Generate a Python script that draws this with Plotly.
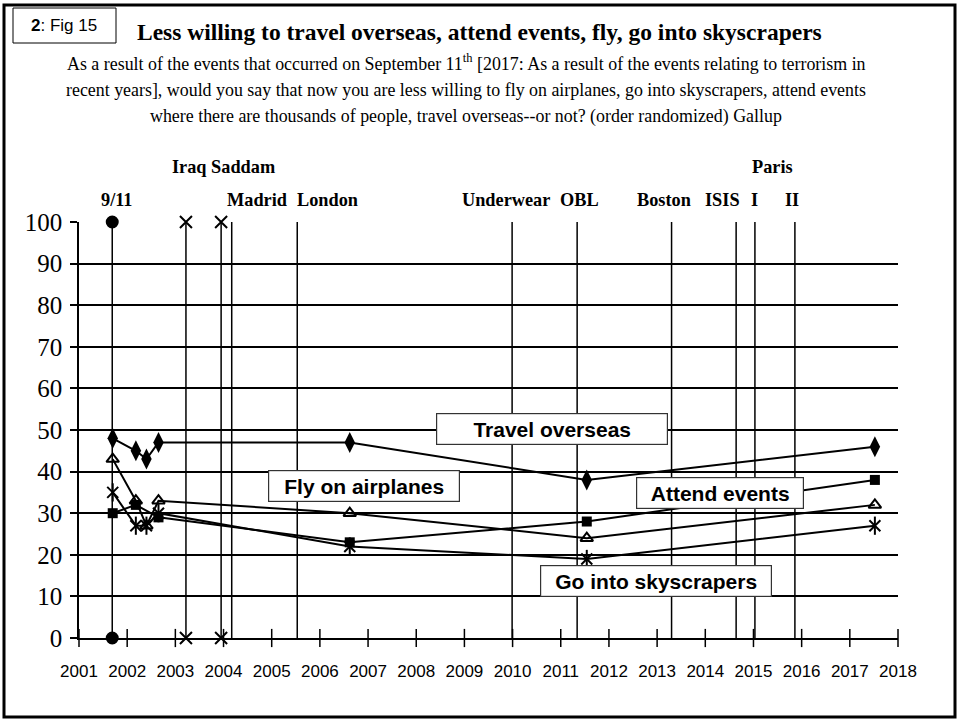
import plotly.graph_objects as go

# ---- data (decimal years, % "less willing") ----
dates = [2001.70, 2002.18, 2002.40, 2002.65, 2006.62, 2011.54, 2017.52]
travel_overseas = [48, 45, 43, 47, 47, 38, 46]
fly_airplanes = [43, 33, 27, 33, 30, 24, 32]
skyscrapers = [35, 27, 27, 30, 22, 19, 27]

attend_dates = [2001.70, 2002.18, 2002.65, 2006.62, 2011.54, 2017.52]
attend_events = [30, 32, 29, 23, 28, 38]

# terror events drawn as full-height verticals
event_names = ["9/11", "Iraq", "Saddam", "Madrid", "London", "Underwear",
               "OBL", "Boston", "ISIS", "Paris I", "Paris II"]
event_dates = [2001.69, 2003.22, 2003.95, 2004.17, 2005.53, 2009.99,
               2011.34, 2013.30, 2014.64, 2015.03, 2015.86]
event_symbols = ["circle", "x-thin", "x-thin", None, None, None,
                 None, None, None, None, None]
event_span = [0, 100]

years = list(range(2001, 2019))
y_ticks = list(range(0, 101, 10))

# ---- pixel layout helpers ----
W, H = 964, 721
L, R, T, B = 79, 898, 222, 638


def px(x):
    return (x - L) / (R - L)


def py(y):
    return (B - y) / (B - T)


SERIF = "Liberation Serif, Times New Roman, serif"
SANS = "Liberation Sans, Arial, sans-serif"

fig = go.Figure()

# ══════ event verticals ══════
for name, d, sym in zip(event_names, event_dates, event_symbols):
    fig.add_trace(go.Scatter(
        x=[d, d], y=event_span,
        mode="lines+markers" if sym else "lines",
        line=dict(color="black", width=1.5),
        marker=dict(symbol=sym or "circle", size=12 if sym == "x-thin" else 11,
                    color="black", line=dict(color="black", width=2)),
        cliponaxis=False, showlegend=False, hoverinfo="skip", name=name,
    ))

# crossing tick marks on the x axis
fig.add_trace(go.Scatter(
    x=years, y=[0] * len(years), mode="markers",
    marker=dict(symbol="line-ns", size=13, line=dict(color="black", width=1.5)),
    cliponaxis=False, showlegend=False, hoverinfo="skip",
))

# ══════ survey series ══════
fig.add_trace(go.Scatter(
    x=dates, y=travel_overseas, mode="lines+markers", name="Travel overseas",
    line=dict(color="black", width=2),
    marker=dict(symbol="diamond-tall", size=15, color="black"),
))
fig.add_trace(go.Scatter(
    x=dates, y=fly_airplanes, mode="lines+markers", name="Fly on airplanes",
    line=dict(color="black", width=2),
    marker=dict(symbol="triangle-up-open", size=11, color="black",
                line=dict(color="black", width=2)),
))
fig.add_trace(go.Scatter(
    x=dates, y=skyscrapers, mode="lines+markers", name="Go into skyscrapers",
    line=dict(color="black", width=2),
    marker=dict(symbol="x-thin", size=11, line=dict(color="black", width=2)),
))
fig.add_trace(go.Scatter(
    x=dates, y=skyscrapers, mode="markers", showlegend=False, hoverinfo="skip",
    marker=dict(symbol="line-ns", size=13, line=dict(color="black", width=2)),
))
fig.add_trace(go.Scatter(
    x=attend_dates, y=attend_events, mode="lines+markers", name="Attend events",
    line=dict(color="black", width=2),
    marker=dict(symbol="square", size=10, color="black"),
))

# ══════ annotations ══════
ann = []

# title + question text
ann.append(dict(x=px(479), y=py(32), text="<b>Less willing to travel overseas, attend events, fly, go into skyscrapers</b>",
                font=dict(family=SERIF, size=23.5, color="black")))
question = [
    "As a result of the events that occurred on September 11<sup>th</sup> [2017: As a result of the events relating to terrorism in",
    "recent years], would you say that now you are less willing to fly on airplanes, go into skyscrapers, attend events",
    "where there are thousands of people, travel overseas--or not? (order randomized) Gallup",
]
for i, line in enumerate(question):
    ann.append(dict(x=px(466), y=py(63 + 27 * i), text=line,
                    font=dict(family=SERIF, size=17.9, color="black")))

ann.append(dict(x=px(64), y=py(26), text="<b>2</b>: Fig 15",
                font=dict(family=SANS, size=17, color="black")))

# event labels
event_labels = [("9/11", 117, 200), ("Iraq Saddam", 223, 167), ("Madrid", 257, 200),
                ("London", 327, 200), ("Underwear", 506, 200), ("OBL", 579, 200),
                ("Boston", 664, 200), ("ISIS", 722, 200), ("I", 754, 200),
                ("II", 792, 200), ("Paris", 772, 167)]
for txt, x, y in event_labels:
    ann.append(dict(x=px(x), y=py(y), text=f"<b>{txt}</b>",
                    font=dict(family=SERIF, size=18.3, color="black")))

# series label boxes
boxes = [("Travel overseas", 552, 429, 228), ("Fly on airplanes", 364, 486, 188),
         ("Attend events", 720, 493, 164), ("Go into skyscrapers", 656, 581, 228)]
for txt, x, y, w in boxes:
    ann.append(dict(x=px(x), y=py(y), text=f"<b>{txt}</b>", width=w, height=28,
                    bgcolor="white", bordercolor="#333", borderwidth=1.2, borderpad=1,
                    font=dict(family=SANS, size=21, color="black")))

for a in ann:
    a.update(xref="paper", yref="paper", showarrow=False,
             xanchor="center", yanchor="middle")

# ══════ frame + figure tag box ══════
shapes = [
    dict(type="rect", xref="paper", yref="paper",
         x0=px(4), x1=px(955), y0=py(5), y1=py(717),
         line=dict(color="black", width=3), layer="below"),
    dict(type="rect", xref="paper", yref="paper",
         x0=px(13), x1=px(116), y0=py(8), y1=py(43),
         line=dict(color="black", width=1), fillcolor="white", layer="below"),
]

fig.update_layout(
    width=W, height=H,
    margin=dict(l=L, r=W - R, t=T, b=H - B, pad=0),
    paper_bgcolor="white", plot_bgcolor="white",
    showlegend=False,
    annotations=ann, shapes=shapes,
)
fig.update_xaxes(
    range=[2001, 2018], tickvals=years, ticktext=[str(y) for y in years],
    showgrid=False, zeroline=False,
    showline=True, linecolor="black", linewidth=2,
    ticks="", ticklabelstandoff=17,
    tickfont=dict(family=SANS, size=17, color="black"),
)
fig.update_yaxes(
    range=[0, 100], tickvals=y_ticks,
    showgrid=True, gridcolor="black", gridwidth=2, zeroline=False,
    showline=True, linecolor="black", linewidth=1.5,
    ticks="outside", ticklen=7, tickwidth=2, tickcolor="black",
    ticklabelstandoff=3,
    tickfont=dict(family=SERIF, size=25, color="black"),
)

# drop the default body margin so the 964x721 figure sits at the window origin
fig.write_html("out.html", config={"displayModeBar": False},
               post_script="document.body.style.margin='0';")
